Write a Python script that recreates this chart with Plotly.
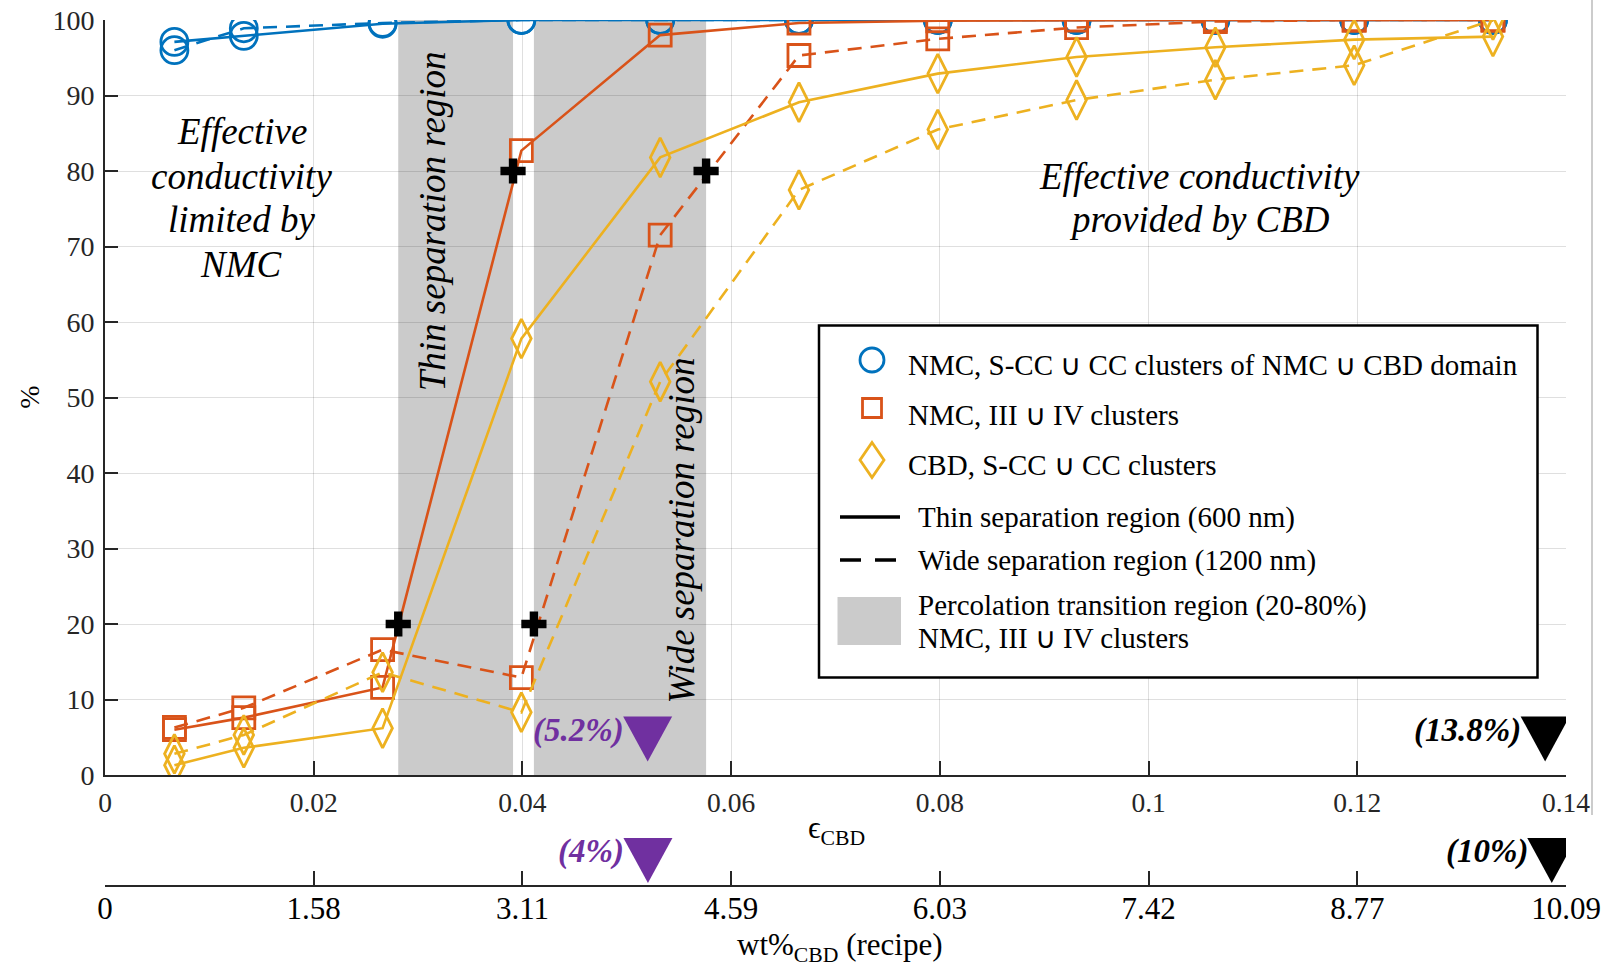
import numpy as np
import plotly.graph_objects as go

# ---------------------------------------------------------------- data
# CBD volume fraction of each simulated microstructure
eps_cbd = [0.00665, 0.0133, 0.0266, 0.0399, 0.0532, 0.0665,
           0.0798, 0.0931, 0.1064, 0.1197, 0.1330]

# NMC, S-CC U CC clusters of NMC U CBD domain (%)
nmc_domain_thin = [97.1, 97.9, 99.5, 100, 100, 100, 100, 100, 100, 100, 100]
nmc_domain_wide = [96.0, 98.9, 99.6, 100, 100, 100, 100, 100, 100, 100, 100]
# NMC, III U IV clusters (%)
nmc_iii_iv_thin = [6.0, 7.6, 11.6, 82.7, 98.0, 99.6, 99.9, 100, 100, 100, 100]
nmc_iii_iv_wide = [6.3, 8.9, 16.6, 12.9, 71.5, 95.3, 97.5, 99.0, 99.8, 100, 100]
# CBD, S-CC U CC clusters (%)
cbd_cc_thin = [1.3, 3.6, 6.2, 57.8, 81.8, 89.1, 92.9, 95.1, 96.4, 97.4, 97.8]
cbd_cc_wide = [2.8, 5.3, 13.6, 8.3, 52.1, 77.5, 85.5, 89.4, 92.1, 94.0, 100]

# 20 % / 80 % crossings of the NMC III U IV curves (percolation transition)
crossing_levels = [20, 80]
thin_crossings = [0.0281, 0.0391]
wide_crossings = [0.0411, 0.0576]

# primary (eps_CBD) and secondary (wt% CBD, recipe) axis ticks
eps_ticks = [0, 0.02, 0.04, 0.06, 0.08, 0.10, 0.12, 0.14]
wt_ticks = [0, 1.58, 3.11, 4.59, 6.03, 7.42, 8.77, 10.09]
wt_tick_labels = ["0", "1.58", "3.11", "4.59", "6.03", "7.42", "8.77", "10.09"]

# highlighted recipes
eps_marks = [0.052, 0.138]
eps_mark_labels = ["(5.2%)", "(13.8%)"]
wt_marks = [4, 10]
wt_mark_labels = ["(4%)", "(10%)"]
mark_colors = ["#7030A0", "#000000"]

# ---------------------------------------------------------------- style
BLUE = "#0072BD"
RED = "#D95319"
YELLOW = "#EDB120"
SHADE = "#cbcbcb"
AXIS = "#262626"
GRID = "rgba(38,38,38,0.15)"
SERIF = "Liberation Serif"
DASH = "14px,9px"

W, H = 1605, 971
ML, MR, MT, MB = 105, 39, 20, 85
PW, PH = W - ML - MR, H - MT - MB
Y_DOMAIN_BOTTOM = 111 / PH          # main axes end 111 px above the recipe axis


def px(x):
    """horizontal pixel -> paper fraction"""
    return (x - ML) / PW


def py(y):
    """vertical pixel -> paper fraction"""
    return (H - MB - y) / PH


fig = go.Figure()

series = [
    (nmc_domain_thin, BLUE, "circle-open", 27, "solid"),
    (nmc_domain_wide, BLUE, "circle-open", 27, DASH),
    (nmc_iii_iv_thin, RED, "square-open", 22, "solid"),
    (nmc_iii_iv_wide, RED, "square-open", 22, DASH),
    (cbd_cc_thin, YELLOW, "diamond-tall-open", 28, "solid"),
    (cbd_cc_wide, YELLOW, "diamond-tall-open", 28, DASH),
]
for vals, col, sym, size, dash in series:
    fig.add_trace(go.Scatter(
        x=eps_cbd, y=vals, mode="lines+markers",
        line=dict(color=col, width=2.6, dash=dash),
        marker=dict(symbol=sym, size=size, color=col, line=dict(width=2.8, color=col)),
        showlegend=False, hoverinfo="skip"))

# transition bounds
for xs in (thin_crossings, wide_crossings):
    fig.add_trace(go.Scatter(
        x=xs, y=crossing_levels, mode="markers",
        marker=dict(symbol="cross", size=21, color="black", line=dict(width=0)),
        showlegend=False, hoverinfo="skip"))

# invisible trace that carries the recipe (wt%) axis
fig.add_trace(go.Scatter(x=[None], y=[None], xaxis="x2", yaxis="y",
                         mode="markers", showlegend=False, hoverinfo="skip"))

shapes = []
# shaded percolation transition regions
for xs in (thin_crossings, wide_crossings):
    shapes.append(dict(type="rect", xref="x", yref="y", x0=xs[0], x1=xs[1], y0=0, y1=100,
                       fillcolor=SHADE, line=dict(width=0), layer="below"))

# downward triangles marking recipes on both axes
tri = "M-24.5,45 L24.5,45 L0,0 Z"
for x, c in zip(eps_marks, mark_colors):
    shapes.append(dict(type="path", xref="x", yref="y", xsizemode="pixel", ysizemode="pixel",
                       xanchor=x, yanchor=1.8, path=tri, fillcolor=c, line=dict(width=0)))
wt_mark_pos = list(np.interp(wt_marks, wt_ticks, eps_ticks))
for x, c in zip(wt_mark_pos, mark_colors):
    shapes.append(dict(type="path", xref="x", yref="paper", xsizemode="pixel", ysizemode="pixel",
                       xanchor=x, yanchor=py(883), path=tri, fillcolor=c, line=dict(width=0)))

# legend frame and symbols
shapes.append(dict(type="rect", xref="paper", yref="paper", x0=px(819), x1=px(1537.5),
                   y0=py(677.6), y1=py(325.5), line=dict(color="black", width=2.5),
                   fillcolor="white", layer="above"))
shapes.append(dict(type="circle", xref="paper", yref="paper", xsizemode="pixel", ysizemode="pixel",
                   xanchor=px(872), yanchor=py(360), x0=-12, x1=12, y0=-12, y1=12,
                   line=dict(color=BLUE, width=2.8)))
shapes.append(dict(type="rect", xref="paper", yref="paper", xsizemode="pixel", ysizemode="pixel",
                   xanchor=px(872), yanchor=py(408), x0=-9.5, x1=9.5, y0=-9.5, y1=9.5,
                   line=dict(color=RED, width=2.8)))
shapes.append(dict(type="path", xref="paper", yref="paper", xsizemode="pixel", ysizemode="pixel",
                   xanchor=px(872), yanchor=py(460), path="M0,17.5 L12,0 L0,-17.5 L-12,0 Z",
                   line=dict(color=YELLOW, width=2.8)))
shapes.append(dict(type="line", xref="paper", yref="paper", x0=px(840), x1=px(900),
                   y0=py(517), y1=py(517), line=dict(color="black", width=3.5)))
shapes.append(dict(type="line", xref="paper", yref="paper", x0=px(840), x1=px(896),
                   y0=py(560), y1=py(560), line=dict(color="black", width=3.5, dash="21px,14px")))
shapes.append(dict(type="rect", xref="paper", yref="paper", x0=px(837.5), x1=px(901),
                   y0=py(645), y1=py(597), fillcolor=SHADE, line=dict(width=0)))

# faint frame edge at the right border
shapes.append(dict(type="line", xref="paper", yref="paper", x0=px(1592), x1=px(1592),
                   y0=py(0), y1=py(815), line=dict(color="#cccccc", width=2)))

annotations = []


def note(text, x, y, xref="paper", yref="paper", size=27, color="black",
         xanchor="center", yanchor="middle", **kw):
    annotations.append(dict(text=text, x=x, y=y, xref=xref, yref=yref, showarrow=False,
                            xanchor=xanchor, yanchor=yanchor,
                            font=dict(family=SERIF, size=size, color=color), **kw))


# region descriptions
for line, ypix in zip(["Effective", "conductivity", "limited by", "NMC"], [131, 176, 220, 264]):
    note("<i>" + line + "</i>", px(241.6), py(ypix), size=37)
for line, ypix in zip(["Effective conductivity", "provided by CBD"], [176, 220]):
    note("<i>" + line + "</i>", px(1199.7), py(ypix), size=37)
note("<i>Thin separation region</i>", 0.0314, 73.3, xref="x", yref="y", size=37,
     textangle=-90)
note("<i>Wide separation region</i>", 0.0552, 32.4, xref="x", yref="y", size=37,
     textangle=-90)

# recipe labels next to the triangles
for x, t, c in zip(eps_marks, eps_mark_labels, mark_colors):
    note("<b><i>" + t + "</i></b>", x, 5.85, xref="x", yref="y", size=33, color=c,
         xanchor="right", xshift=-22)
for x, t, c in zip(wt_mark_pos, wt_mark_labels, mark_colors):
    note("<b><i>" + t + "</i></b>", x, py(851), xref="x", size=33, color=c,
         xanchor="right", xshift=-22)

# axis titles
note("%", px(28.7), py(397), size=28, textangle=-90)
note("ϵ<sub>CBD</sub>", px(836), py(830), size=31)
note("wt%<sub>CBD</sub> (recipe)", px(840), py(947), size=31)

# legend entries
note("NMC, S-CC ∪ CC clusters of NMC ∪ CBD domain", px(906), py(365), size=29, xanchor="left")
note("NMC, III ∪ IV clusters", px(906), py(415), size=29, xanchor="left")
note("CBD, S-CC ∪ CC clusters", px(906), py(465), size=29, xanchor="left")
note("Thin separation region (600 nm)", px(916), py(517), size=29, xanchor="left")
note("Wide separation region (1200 nm)", px(916), py(560), size=29, xanchor="left")
note("Percolation transition region (20-80%)", px(916), py(605), size=29, xanchor="left")
note("NMC, III ∪ IV clusters", px(916), py(638), size=29, xanchor="left")

axis_common = dict(showline=True, linecolor=AXIS, linewidth=2, ticks="inside",
                   tickcolor=AXIS, tickwidth=2, zeroline=False, automargin=False)

fig.update_layout(
    width=W, height=H,
    margin=dict(l=ML, r=MR, t=MT, b=MB, pad=0),
    paper_bgcolor="white", plot_bgcolor="white",
    font=dict(family=SERIF, color="black"),
    showlegend=False, hovermode=False,
    xaxis=dict(range=[0, 0.14], dtick=0.02, tick0=0, ticklen=14, showgrid=True,
               gridcolor=GRID, gridwidth=1, anchor="y", ticklabelstandoff=2,
               tickfont=dict(family=SERIF, size=27.5, color=AXIS), **axis_common),
    xaxis2=dict(range=[0, 0.14], tickvals=eps_ticks, ticktext=wt_tick_labels,
                overlaying="x", anchor="free", position=0, side="bottom",
                ticklen=14, showgrid=False, ticklabelstandoff=-5,
                tickfont=dict(family=SERIF, size=31, color="black"), **axis_common),
    yaxis=dict(range=[0, 100], dtick=10, domain=[Y_DOMAIN_BOTTOM, 1], ticklen=13,
               showgrid=True, gridcolor=GRID, gridwidth=1, ticklabelstandoff=3,
               tickfont=dict(family=SERIF, size=28, color=AXIS), **axis_common),
    shapes=shapes,
    annotations=annotations,
)

fig.write_html("out.html")
